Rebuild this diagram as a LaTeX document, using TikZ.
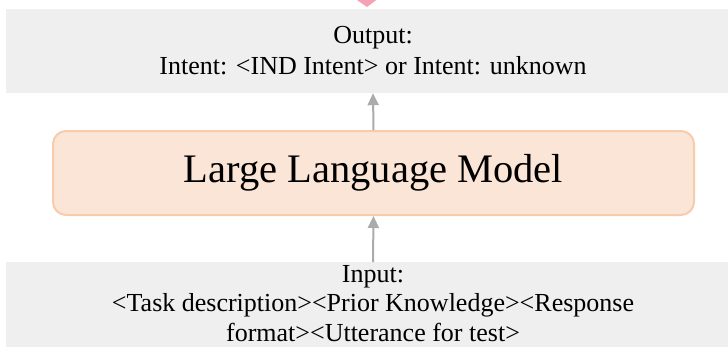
\documentclass[tikz,border=0pt]{standalone}
\usepackage{fontspec}
\setmainfont{Liberation Serif}
\usetikzlibrary{arrows.meta}
\definecolor{boxgrey}{HTML}{EFEFEF}
\definecolor{llmfill}{HTML}{FBE5D6}
\definecolor{llmline}{HTML}{F8CBAD}
\definecolor{arrowgrey}{HTML}{ABABAB}
\definecolor{pinktip}{HTML}{F4A3B4}
\begin{document}
\begin{tikzpicture}[x=1pt,y=-1pt,
  greybox/.style={fill=boxgrey, draw=none, minimum width=734pt, inner sep=0pt,
    align=center, font=\fontsize{26}{31}\selectfont},
  llmbox/.style={fill=llmfill, draw=llmline, line width=2pt, rounded corners=13pt,
    minimum width=641pt, minimum height=84pt, inner sep=0pt,
    font=\fontsize{40.5}{44}\selectfont},
  txt/.style={align=center, inner sep=0pt, font=\fontsize{26}{29.5}\selectfont},
  arr/.style={draw=arrowgrey, line width=2pt, -{Triangle[length=12pt,width=11pt]}}]
\useasboundingbox (0,0) rectangle (728,346);
\fill[pinktip] (354,-2) -- (379,-2) -- (367,7) -- cycle;
\node[greybox, minimum height=84pt] (out) at (373,51) {Output:\\Intent: <IND Intent> or Intent: unknown};
\node[llmbox] (llm) at (373.5,173) {Large Language Model};
\node[greybox, minimum height=100pt, anchor=north] (inbox) at (373,262) {};
\node[txt, anchor=north] (intext) at (373,265) {Input:\\<Task description><Prior Knowledge><Response\\format><Utterance for test>};
\draw[arr] (llm.north) -- (out.south);
\draw[arr] (inbox.north) -- (llm.south);
\end{tikzpicture}
\end{document}
